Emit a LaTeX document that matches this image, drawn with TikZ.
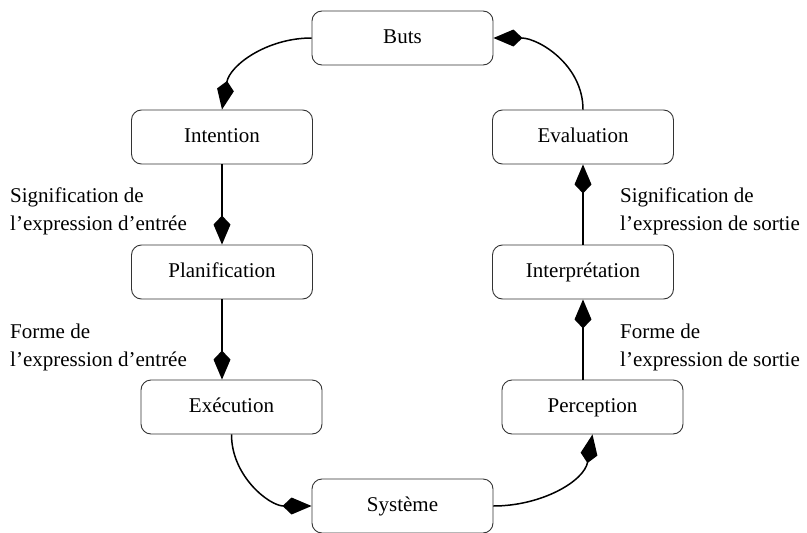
\documentclass[tikz,border=0pt]{standalone}
\usepackage{fontspec}
\setmainfont{Liberation Serif}
\usepackage{tikz}
\usetikzlibrary{positioning,arrows.meta}

\begin{document}
\begin{tikzpicture}[x=1pt, y=1pt, node distance=135pt,
    box/.style={rectangle, rounded corners=10pt, draw=black!80, line width=0.9pt, minimum width=181pt, minimum height=54pt, text height=14pt, text depth=4pt, font=\fontsize{21}{28}\selectfont},
    note/.style={align=left, anchor=west, inner sep=0pt, font=\fontsize{21}{28}\selectfont},
    arrow/.style={-{Kite[length=29pt, width=17pt, inset=9pt]}, line width=1.5pt}]

    \path[use as bounding box] (0,0) rectangle (807,-533);

    \node[box] (buts) at (402.5,-38) {Buts};
    \node[box, below of=buts, xshift=-180.5pt, yshift=36pt] (intention) {Intention};
    \node[box, below of=buts, xshift=180.5pt, yshift=36pt] (evaluation) {Evaluation};
    \node[box, below of=intention] (plan) {Planification};
    \node[box, below of=evaluation] (interp) {Interprétation};
    \node[box, below of=plan, xshift=9.5pt] (exec) {Exécution};
    \node[box, below of=interp, xshift=9.5pt] (perception) {Perception};
    \node[box, below of=exec, xshift=171pt, yshift=36pt] (systeme) {Système};

    \node[note] (sigin) at (10,-211) {Signification de\\l’expression d’entrée};
    \node[note] (formein) at (10,-347) {Forme de\\l’expression d’entrée};
    \node[note] (sigout) at (620,-211) {Signification de\\l’expression de sortie};
    \node[note] (formeout) at (620,-347) {Forme de\\l’expression de sortie};

    \draw[arrow] (buts.west) to[out=180, in=80] (intention.north);
    \draw[arrow] (intention) -- (plan);
    \draw[arrow] (plan) -- (plan |- exec.north);
    \draw[arrow] (exec.south) to[out=-90, in=180] (systeme.west);
    \draw[arrow] (systeme.east) to[out=0, in=-100] (perception.south);
    \draw[arrow] (interp |- perception.north) -- (interp);
    \draw[arrow] (interp) -- (evaluation);
    \draw[arrow] (evaluation.north) to[out=90, in=0] (buts.east);
\end{tikzpicture}
\end{document}
